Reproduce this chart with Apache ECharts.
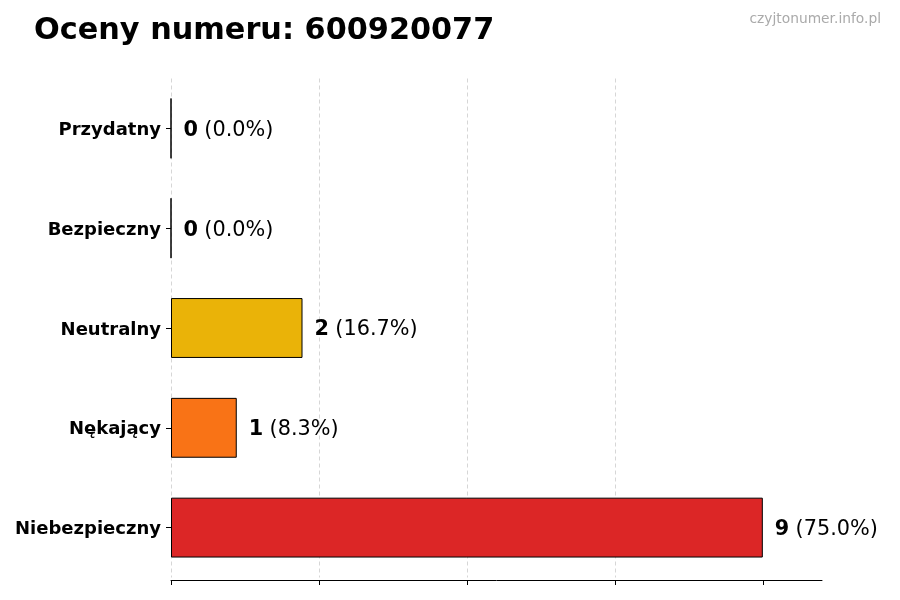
<!DOCTYPE html>
<html><head><meta charset="utf-8">
<script src="https://cdn.jsdelivr.net/npm/echarts@6/dist/echarts.min.js"></script>
<style>html,body{margin:0;padding:0;background:#fff}#c{width:900px;height:600px}</style>
</head><body><div id="c"></div>
<script>
const categories = ["Przydatny", "Bezpieczny", "Neutralny", "Nękający", "Niebezpieczny"];
const counts = [0, 0, 2, 1, 9];
const percents = ["0.0", "0.0", "16.7", "8.3", "75.0"];
const colors = ["#22c55e", "#3b82f6", "#EAB308", "#F97316", "#DC2626"];
const xTicks = [0, 2.25, 4.5, 6.75, 9];
const titleText = "Oceny numeru: 600920077";
const watermark = "czyjtonumer.info.pl";

const chart = echarts.init(document.getElementById('c'));
chart.setOption({
  animation: false,
  backgroundColor: '#fff',
  title: [{
    text: titleText, left: 29, top: 11,
    textStyle: {fontFamily: 'DejaVu Sans', fontWeight: 'bold', fontSize: 30.3, color: '#000'}
  }, {
    text: watermark, right: 14, top: 7,
    textStyle: {fontFamily: 'DejaVu Sans', fontWeight: 'normal', fontSize: 13.8, color: '#aaaaaa'}
  }],
  grid: {left: 171, right: 78, top: 78.5, bottom: 22.5, containLabel: false},
  xAxis: {
    type: 'value', min: 0, max: 9.9, interval: 2.25, offset: 2.5,
    axisLine: {show: true, lineStyle: {color: '#000', width: 1}},
    axisTick: {show: true, length: 5, lineStyle: {color: '#000'}, customValues: xTicks},
    axisLabel: {show: false},
    splitLine: {show: true, lineStyle: {type: [4, 3], color: '#cccccc', width: 0.8}, showMaxLine: false}
  },
  yAxis: {
    type: 'category', data: categories, inverse: true,
    axisLine: {show: false},
    axisTick: {show: true, alignWithLabel: true, length: 5, lineStyle: {color: '#000'}},
    axisLabel: {
      margin: 10,
      formatter: v => '{c|' + v + '}',
      rich: {c: {fontFamily: 'DejaVu Sans', fontWeight: 'bold', fontSize: 18, color: '#000', padding: [4, 0, 0, 0]}}
    }
  },
  series: [{
    type: 'bar',
    barWidth: '60%',
    data: counts.map((v, i) => ({value: v, itemStyle: {color: colors[i]}})),
    itemStyle: {borderColor: '#000', borderWidth: 1},
    label: {
      show: true, position: 'right', distance: 12, padding: [4, 0, 0, 0],
      formatter: p => '{b|' + counts[p.dataIndex] + '} {n|(' + percents[p.dataIndex] + '%)}',
      rich: {
        b: {fontFamily: 'DejaVu Sans', fontWeight: 'bold', fontSize: 20.8, color: '#000'},
        n: {fontFamily: 'DejaVu Sans', fontWeight: 'normal', fontSize: 20.8, color: '#000', padding: [0, 0, 0, 3]}
      }
    }
  }]
});
</script></body></html>
